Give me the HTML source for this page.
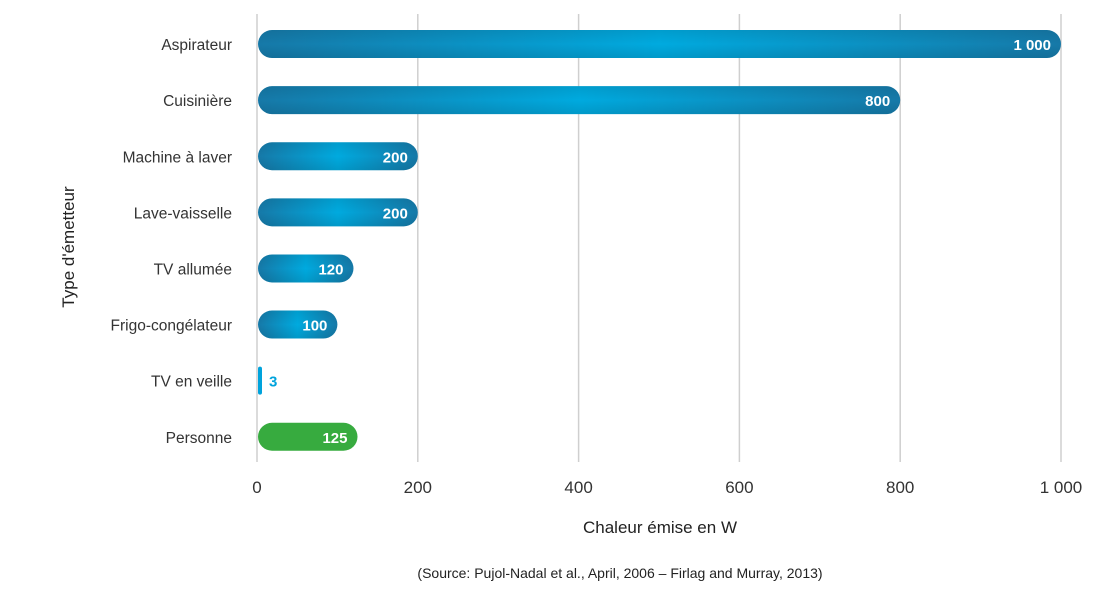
<!DOCTYPE html>
<html><head><meta charset="utf-8"><style>
body{margin:0;background:#fff;font-family:"Liberation Sans",sans-serif}
</style></head><body>
<svg id="chart" width="1097" height="600" viewBox="0 0 1097 600" xmlns="http://www.w3.org/2000/svg">
<defs>
<linearGradient id="blueGrad" x1="0" y1="0" x2="1" y2="0">
<stop offset="0" stop-color="#1679a8"/><stop offset="0.5" stop-color="#00aadf"/><stop offset="1" stop-color="#1679a8"/>
</linearGradient>
<linearGradient id="shade" x1="0" y1="0" x2="0" y2="1">
<stop offset="0" stop-color="#000" stop-opacity="0.08"/><stop offset="0.5" stop-color="#000" stop-opacity="0"/><stop offset="1" stop-color="#000" stop-opacity="0.1"/>
</linearGradient>
</defs>
<g id="grid"></g>
<g id="bars"></g>
<g id="xticks"></g>
<g id="ylabels"></g>
<text x="660" y="533" font-size="17" fill="#222" text-anchor="middle">Chaleur émise en W</text>
<text transform="translate(74,247) rotate(-90)" font-size="17" fill="#222" text-anchor="middle">Type d'émetteur</text>
<text x="620" y="578" font-size="14" fill="#222" text-anchor="middle">(Source: Pujol-Nadal et al., April, 2006 – Firlag and Murray, 2013)</text>
</svg>
<script>
const categories=["Aspirateur","Cuisinière","Machine à laver","Lave-vaisselle","TV allumée","Frigo-congélateur","TV en veille","Personne"];
const values=[1000,800,200,200,120,100,3,125];
const valueLabels=["1 000","800","200","200","120","100","3","125"];
const barColors=["blue","blue","blue","blue","blue","blue","blue","green"];
const ticks=[0,200,400,600,800,1000];
const tickLabels=["0","200","400","600","800","1 000"];
const NS="http://www.w3.org/2000/svg";
const x0=257,x1=1061,xmax=1000;
const xs=v=>x0+(x1-x0)*v/xmax;
const yTop=16,band=56.1;
const yc=i=>yTop+band*(i+0.5);
function mk(t,a,p){const e=document.createElementNS(NS,t);for(const k in a)e.setAttribute(k,a[k]);p.appendChild(e);return e;}
const g=document.getElementById('grid'),b=document.getElementById('bars'),xt=document.getElementById('xticks'),yl=document.getElementById('ylabels');
ticks.forEach((t,i)=>{
 const l=mk('line',{x1:xs(t),x2:xs(t),y1:14,y2:462,stroke:'#cfcfcf','stroke-width':1.5},g);
 
 
 const tx=mk('text',{x:xs(t),y:493,'font-size':17,fill:'#333','text-anchor':'middle'},xt);
 tx.textContent=tickLabels[i];
 
 
});
categories.forEach((c,i)=>{
 const y=yc(i),h=28;
 const lab=mk('text',{x:232,y:y+6,'font-size':15.5,fill:'#333','text-anchor':'end'},yl);
 lab.textContent=c;
 
 
 const w=Math.max(xs(values[i])-x0-1,4);
 const fill=barColors[i]==='green'?'#37ab3f':(values[i]<10?'#00a3dc':'url(#blueGrad)');
 const r=mk('rect',{x:x0+1,y:y-h/2,width:w,height:h,rx:Math.min(14,w/2),fill:fill},b);
 
 
 if(barColors[i]!=='green'&&values[i]>=10){
  const s=mk('rect',{x:x0+1,y:y-h/2,width:w,height:h,rx:14,fill:'url(#shade)'},b);
  
  
 }
 const inside=w>50;
 const vt=mk('text',{x:inside?x0+1+w-10:x0+w+8,y:y+6,'font-size':15,'font-weight':'bold',fill:inside?'#fff':'#00a3dc','text-anchor':inside?'end':'start'},b);
 vt.textContent=valueLabels[i];
 
 
});
</script>
</body></html>
